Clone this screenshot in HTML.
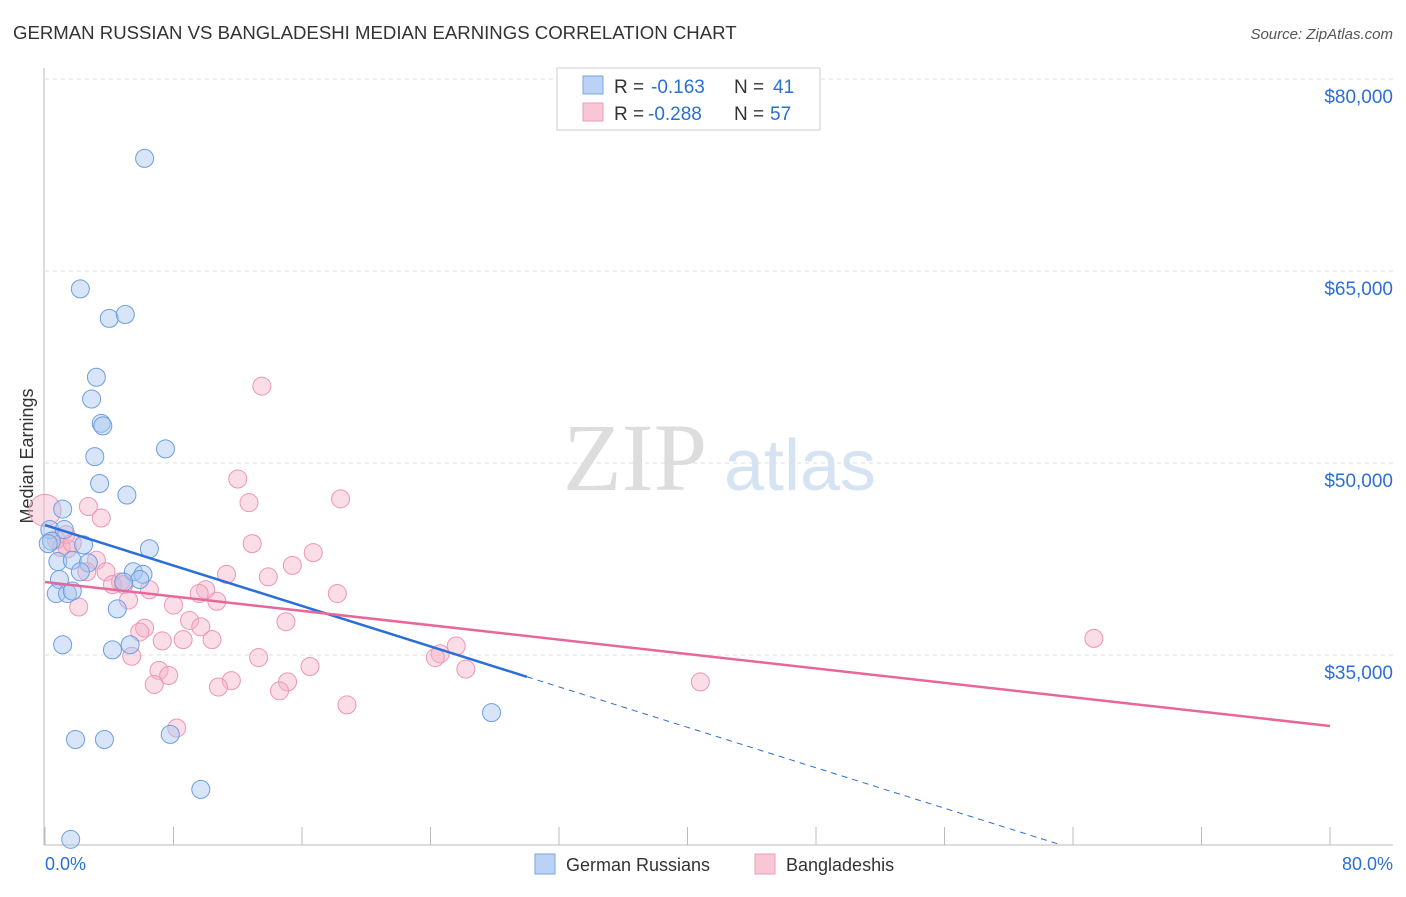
<!DOCTYPE html>
<html><head><meta charset="utf-8"><style>
body{margin:0;background:#fff;font-family:"Liberation Sans",sans-serif}
</style></head><body>
<svg id="chart" width="1406" height="892" xmlns="http://www.w3.org/2000/svg">
<text x="13" y="39" font-size="18.6" fill="#333">GERMAN RUSSIAN VS BANGLADESHI MEDIAN EARNINGS CORRELATION CHART</text>
<text x="1393" y="39" font-size="15" fill="#555" text-anchor="end" font-style="italic">Source: ZipAtlas.com</text>
<text x="33" y="456" font-size="18" fill="#333" text-anchor="middle" transform="rotate(-90 33 456)">Median Earnings</text>
<g>
<text x="635" y="490" font-size="96" fill="#ddd" font-family="Liberation Serif,serif" text-anchor="middle">ZIP</text>
<text x="800" y="490" font-size="72" fill="#d6e3f3" text-anchor="middle">atlas</text>
</g>
<g id="grid"></g><g id="axes"></g><g id="pts"></g><g id="trends"></g>
<g>
<rect x="557" y="68" width="263" height="62" fill="#fff" stroke="#ccc"/>
<rect x="583" y="76" width="20" height="18" fill="#b9d2f5" stroke="#7aa5e0"/>
<rect x="583" y="103" width="20" height="18" fill="#f9c6d6" stroke="#ee9bb8"/>
<text x="614" y="93" font-size="19" fill="#333">R =</text>
<text x="651" y="93" font-size="19" fill="#2a6fd6">-0.163</text>
<text x="734" y="93" font-size="19" fill="#333">N =</text>
<text x="773" y="93" font-size="19" fill="#2a6fd6">41</text>
<text x="614" y="120" font-size="19" fill="#333">R =</text>
<text x="648" y="120" font-size="19" fill="#2a6fd6">-0.288</text>
<text x="734" y="120" font-size="19" fill="#333">N =</text>
<text x="770" y="120" font-size="19" fill="#2a6fd6">57</text>
</g>
<g>
<rect x="535" y="854" width="20" height="20" fill="#b9d2f5" stroke="#7aa5e0"/>
<text x="566" y="871" font-size="18" fill="#333">German Russians</text>
<rect x="755" y="854" width="20" height="20" fill="#f9c6d6" stroke="#ee9bb8"/>
<text x="786" y="871" font-size="18" fill="#333">Bangladeshis</text>
</g>
<text x="45" y="870" font-size="18" fill="#2a6fd6">0.0%</text>
<text x="1393" y="870" font-size="18" fill="#2a6fd6" text-anchor="end">80.0%</text>
</svg>
<script>
const yTicks=[80000,65000,50000,35000];
const yTickLabels=["$80,000","$65,000","$50,000","$35,000"];
const blueX=[6.2,2.2,4.0,5.0,3.2,2.9,3.5,3.6,3.1,7.5,3.4,5.1,1.1,0.3,1.2,0.4,2.4,6.5,0.8,1.7,2.7,2.2,5.5,6.1,5.9,4.9,0.9,0.7,1.4,1.7,4.5,1.1,5.3,4.2,27.8,1.9,3.7,7.8,9.7,1.6,0.2];
const blueY=[73.8,63.6,61.3,61.6,56.7,55.0,53.1,52.9,50.5,51.1,48.4,47.5,46.4,44.8,44.8,43.9,43.6,43.3,42.3,42.4,42.2,41.5,41.5,41.3,40.9,40.7,40.9,39.8,39.8,40.0,38.6,35.8,35.8,35.4,30.5,28.4,28.4,28.8,24.5,20.6,43.7];
const pinkX=[13.5,12.0,18.4,12.7,2.7,3.5,0.0,12.9,1.4,3.2,16.7,15.4,11.3,13.9,3.8,2.6,4.7,4.2,4.9,6.5,10.0,9.6,10.7,18.2,5.2,2.1,8.0,9.0,9.7,15.0,6.2,5.9,7.3,8.6,10.4,25.6,24.6,24.3,5.4,13.3,7.1,7.7,16.5,26.2,6.8,11.6,10.8,15.1,14.6,18.8,8.2,65.3,40.8,1.0,0.7,1.3,1.7];
const pinkY=[56.0,48.75,47.2,46.9,46.6,45.7,46.3,43.7,43.3,42.4,43.0,42.0,41.3,41.1,41.5,41.5,40.7,40.5,40.5,40.1,40.1,39.8,39.2,39.8,39.3,38.75,38.9,37.7,37.2,37.6,37.1,36.8,36.1,36.2,36.2,35.7,35.1,34.8,34.9,34.8,33.8,33.4,34.1,33.9,32.7,33.0,32.5,32.9,32.2,31.1,29.3,36.3,32.9,43.4,44.0,44.4,43.75];
const blueTrend=[45.15,33.3];
const blueTrendX=[0,30,63.2];
const pinkTrend=[40.7,29.45];
const NS="http://www.w3.org/2000/svg";
const X=v=>45+v*16.0625;
const Y=v=>79+(80000-v)*0.0128;
function mk(t,a,p){const e=document.createElementNS(NS,t);for(const k in a)e.setAttribute(k,a[k]);p.appendChild(e);return e;}
const grid=document.getElementById('grid');
yTicks.forEach((v,i)=>{
 const l=mk('line',{x1:45,x2:1393,y1:Y(v),y2:Y(v),stroke:'#ddd','stroke-dasharray':'4,4'},grid);
 
 
 const t=mk('text',{x:1393,y:Y(v)+24,'font-size':19,fill:'#2a6fd6','text-anchor':'end'},grid);
 t.textContent=yTickLabels[i];
 
 
});
const ax=document.getElementById('axes');
mk('line',{x1:44,x2:44,y1:68,y2:845,stroke:'#bbb'},ax);
mk('line',{x1:44,x2:1393,y1:845,y2:845,stroke:'#bbb'},ax);
for(let i=0;i<=10;i++){const tk=mk('line',{x1:X(i*8),x2:X(i*8),y1:827,y2:845,stroke:'#bbb'},ax);
 
 }
const pts=document.getElementById('pts');
pinkX.forEach((x,i)=>{const c=mk('circle',{cx:X(x),cy:Y(pinkY[i]*1000),r:i==6?16:9,fill:'#f5b3c8','fill-opacity':0.45,stroke:'#ee95b4','stroke-width':1},pts);
 
 });
blueX.forEach((x,i)=>{const c=mk('circle',{cx:X(x),cy:Y(blueY[i]*1000),r:9,fill:'#a9c6f0','fill-opacity':0.45,stroke:'#6d9ee0','stroke-width':1},pts);
 
 });
const tr=document.getElementById('trends');
const bs=(blueTrend[1]-blueTrend[0])/30;
const bl=mk('line',{x1:X(0),y1:Y(blueTrend[0]*1000),x2:X(blueTrendX[1]),y2:Y((blueTrend[0]+bs*blueTrendX[1])*1000),stroke:'#2a6fd6','stroke-width':2.5},tr);


const bd=mk('line',{x1:X(blueTrendX[1]),y1:Y((blueTrend[0]+bs*blueTrendX[1])*1000),x2:X(blueTrendX[2]),y2:Y((blueTrend[0]+bs*blueTrendX[2])*1000),stroke:'#2a6fd6','stroke-width':1,'stroke-dasharray':'6,5'},tr);


const pl=mk('line',{x1:X(0),y1:Y(pinkTrend[0]*1000),x2:X(80),y2:Y(pinkTrend[1]*1000),stroke:'#e8679a','stroke-width':2.5},tr);


</script>
</body></html>
